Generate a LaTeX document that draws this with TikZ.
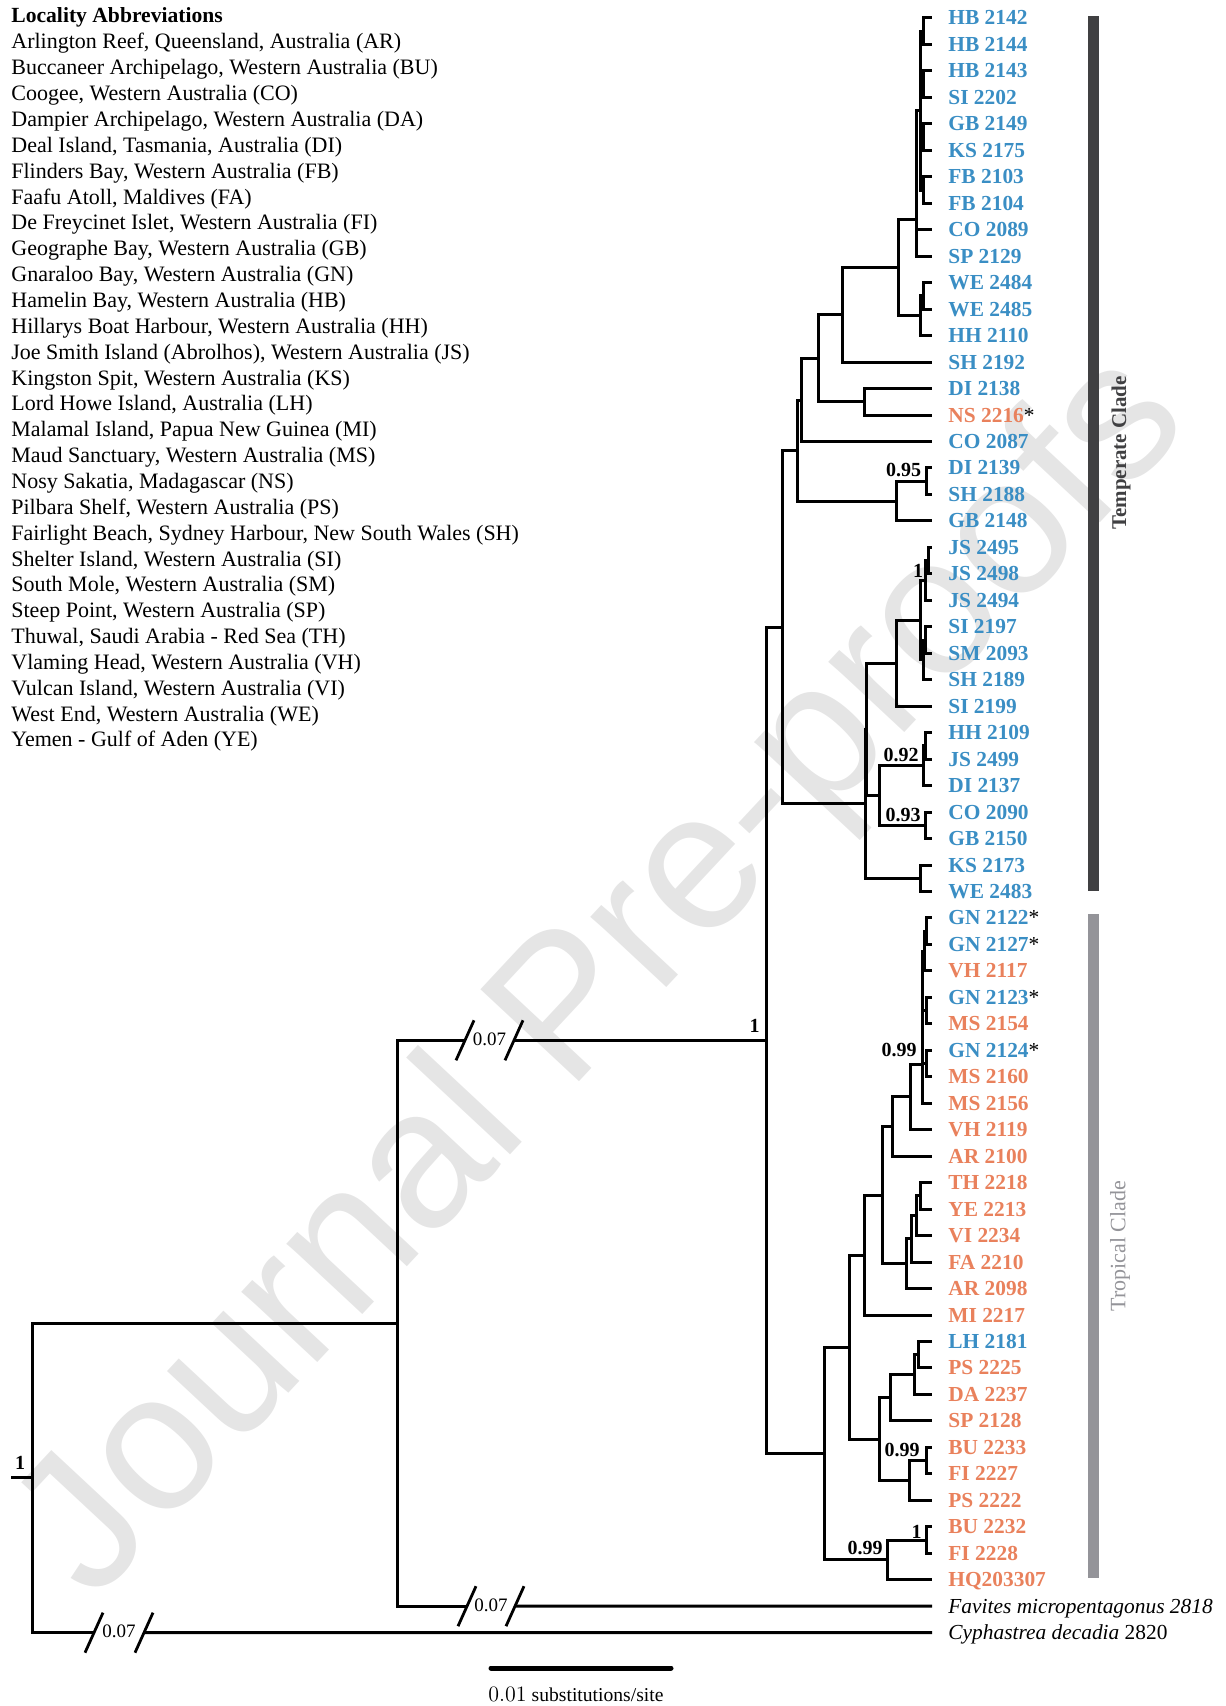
\documentclass[tikz,border=0pt]{standalone}
\usepackage{fontspec}
\setmainfont{Liberation Serif}
\newfontfamily\wmfont{Liberation Sans}
\usetikzlibrary{calc}
\definecolor{tblue}{RGB}{58,142,196}
\definecolor{torange}{RGB}{233,129,92}
\definecolor{tempbar}{RGB}{64,64,66}
\definecolor{tropbar}{RGB}{148,148,153}
\definecolor{wmgray}{RGB}{229,229,229}
\newcommand\astk{{\mdseries\color{black}*}}
\begin{document}
\begin{tikzpicture}[x=0.5pt,y=-0.5pt,
  br/.style={line width=1.5pt},
  sl/.style={line width=1.4pt},
  leaflab/.style={anchor=base west, inner sep=0pt, font=\fontsize{10.7}{12}\selectfont\bfseries},
  outlab/.style={anchor=base west, inner sep=0pt, font=\fontsize{10.7}{12}\selectfont},
  legend/.style={anchor=base west, inner sep=0pt, font=\fontsize{11}{12}\selectfont},
  supp/.style={anchor=east, inner sep=0pt, font=\fontsize{10}{12}\selectfont\bfseries},
  brk/.style={inner sep=0pt, font=\fontsize{9.5}{11}\selectfont}]
\useasboundingbox (0,0) rectangle (1225,1706);
% watermark
\node[rotate=47, text=wmgray, inner sep=0pt, font=\wmfont\fontsize{98}{98}\selectfont] (wmk) at (606,979) {Journal Pre-proofs};

% legend
\node[legend, font=\fontsize{10.8}{12}\selectfont\bfseries] (lgt) at (11,22.7) {Locality Abbreviations};
\foreach \i/\t in {
 0/{Arlington Reef, Queensland, Australia (AR)},
 1/{Buccaneer Archipelago, Western Australia (BU)},
 2/{Coogee, Western Australia (CO)},
 3/{Dampier Archipelago, Western Australia (DA)},
 4/{Deal Island, Tasmania, Australia (DI)},
 5/{Flinders Bay, Western Australia (FB)},
 6/{Faafu Atoll, Maldives (FA)},
 7/{De Freycinet Islet, Western Australia (FI)},
 8/{Geographe Bay, Western Australia (GB)},
 9/{Gnaraloo Bay, Western Australia (GN)},
 10/{Hamelin Bay, Western Australia (HB)},
 11/{Hillarys Boat Harbour, Western Australia (HH)},
 12/{Joe Smith Island (Abrolhos), Western Australia (JS)},
 13/{Kingston Spit, Western Australia (KS)},
 14/{Lord Howe Island, Australia (LH)},
 15/{Malamal Island, Papua New Guinea (MI)},
 16/{Maud Sanctuary, Western Australia (MS)},
 17/{Nosy Sakatia, Madagascar (NS)},
 18/{Pilbara Shelf, Western Australia (PS)},
 19/{Fairlight Beach, Sydney Harbour, New South Wales (SH)},
 20/{Shelter Island, Western Australia (SI)},
 21/{South Mole, Western Australia (SM)},
 22/{Steep Point, Western Australia (SP)},
 23/{Thuwal, Saudi Arabia - Red Sea (TH)},
 24/{Vlaming Head, Western Australia (VH)},
 25/{Vulcan Island, Western Australia (VI)},
 26/{West End, Western Australia (WE)},
 27/{Yemen - Gulf of Aden (YE)}}
 \node[legend] (lg\i) at (11,{49+25.85*\i}) {\t};

% leaf tips
\foreach \i in {0,...,61} \coordinate (L\i) at (932,{18+26.47*\i});

% leaf labels
\foreach \i/\c/\t in {
 0/tblue/HB 2142, 1/tblue/HB 2144, 2/tblue/HB 2143, 3/tblue/SI 2202,
 4/tblue/GB 2149, 5/tblue/KS 2175, 6/tblue/FB 2103, 7/tblue/FB 2104,
 8/tblue/CO 2089, 9/tblue/SP 2129, 10/tblue/WE 2484, 11/tblue/WE 2485,
 12/tblue/HH 2110, 13/tblue/SH 2192, 14/tblue/DI 2138, 15/torange/{NS 2216\astk},
 16/tblue/CO 2087, 17/tblue/DI 2139, 18/tblue/SH 2188, 19/tblue/GB 2148,
 20/tblue/JS 2495, 21/tblue/JS 2498, 22/tblue/JS 2494, 23/tblue/SI 2197,
 24/tblue/SM 2093, 25/tblue/SH 2189, 26/tblue/SI 2199, 27/tblue/HH 2109,
 28/tblue/JS 2499, 29/tblue/DI 2137, 30/tblue/CO 2090, 31/tblue/GB 2150,
 32/tblue/KS 2173, 33/tblue/WE 2483,
 34/tblue/{GN 2122\astk}, 35/tblue/{GN 2127\astk}, 36/torange/VH 2117,
 37/tblue/{GN 2123\astk}, 38/torange/MS 2154, 39/tblue/{GN 2124\astk},
 40/torange/MS 2160, 41/torange/MS 2156, 42/torange/VH 2119, 43/torange/AR 2100,
 44/torange/TH 2218, 45/torange/YE 2213, 46/torange/VI 2234, 47/torange/FA 2210,
 48/torange/AR 2098, 49/torange/MI 2217, 50/tblue/LH 2181, 51/torange/PS 2225,
 52/torange/DA 2237, 53/torange/SP 2128, 54/torange/BU 2233, 55/torange/FI 2227,
 56/torange/PS 2222, 57/torange/BU 2232, 58/torange/FI 2228, 59/torange/HQ203307}
 \node[leaflab, text=\c] (T\i) at (948,{25+26.47*\i}) {\t};
\node[outlab] (T60) at (948,{25+26.47*60}) {\itshape Favites micropentagonus 2818};
\node[outlab] (T61) at (948,{25+26.47*61}) {\itshape Cyphastrea decadia\upshape{} 2820};

% internal nodes
\coordinate (c01) at (923,31.24);
\coordinate (c23) at (923,84.18);
\coordinate (c45) at (923,137.12);
\coordinate (c67) at (923,190.06);
\coordinate (A1) at (920.5,110.65);
\coordinate (A2) at (916.7,220);
\coordinate (B1) at (923,295.9);
\coordinate (B) at (920,315.8);
\coordinate (C) at (898,267.9);
\coordinate (D) at (842,315);
\coordinate (E1) at (864,401.8);
\coordinate (E) at (818,358.4);
\coordinate (F1) at (801,400);
\coordinate (G1) at (926.7,481.2);
\coordinate (G) at (896,501.1);
\coordinate (F) at (797,450.5);
\coordinate (JS1) at (928,560.6);
\coordinate (JS) at (925.5,580.5);
\coordinate (M1) at (925,640);
\coordinate (M) at (923,659.9);
\coordinate (Lc) at (920,620.2);
\coordinate (J) at (896,663.2);
\coordinate (K11) at (925.5,745.9);
\coordinate (K1) at (923,765.8);
\coordinate (K2) at (925,825.3);
\coordinate (K) at (879.3,795.6);
\coordinate (I1) at (866.5,729.4);
\coordinate (KW) at (920.7,878.3);
\coordinate (I) at (865.5,803.9);
\coordinate (H) at (782.7,627.2);
\coordinate (N11) at (926.7,931.2);
\coordinate (N1) at (924,951);
\coordinate (N2) at (926.7,1010.6);
\coordinate (N3) at (926.7,1063.6);
\coordinate (N) at (922,1064);
\coordinate (O) at (910.7,1096.9);
\coordinate (P) at (892.7,1126.5);
\coordinate (R1) at (920,1195.9);
\coordinate (R2) at (916.7,1215.8);
\coordinate (R3) at (911.7,1238.9);
\coordinate (R) at (906.7,1263.7);
\coordinate (Q) at (882.7,1195.1);
\coordinate (S) at (864,1255.1);
\coordinate (V11) at (918.3,1354.7);
\coordinate (V1) at (914,1374.6);
\coordinate (V) at (890,1397.8);
\coordinate (W1) at (926.7,1460.6);
\coordinate (W) at (909,1480.5);
\coordinate (U) at (879.3,1439.1);
\coordinate (T) at (849.3,1347.1);
\coordinate (Y1) at (926.7,1540);
\coordinate (Y) at (887,1559.9);
\coordinate (X) at (824,1453.5);
\coordinate (Z) at (766,1040.3);
\coordinate (In) at (397,1323.2);
\coordinate (Rt) at (32.6,1477.9);
\coordinate (stub) at (11,1477.9);

\foreach \p/\c in {c01/L0,c01/L1,c23/L2,c23/L3,c45/L4,c45/L5,c67/L6,c67/L7,
 A1/c01,A1/c23,A1/c45,A1/c67,A2/A1,A2/L8,A2/L9,
 B1/L10,B1/L11,B/B1,B/L12,C/A2,C/B,D/C,D/L13,E1/L14,E1/L15,E/D,E/E1,
 F1/E,F1/L16,G1/L17,G1/L18,G/G1,G/L19,F/F1,F/G,
 JS1/L20,JS1/L21,JS/JS1,JS/L22,M1/L23,M1/L24,M/M1,M/L25,Lc/JS,Lc/M,J/Lc,J/L26,
 K11/L27,K11/L28,K1/K11,K1/L29,K2/L30,K2/L31,K/K1,K/K2,I1/J,I1/K,
 KW/L32,KW/L33,I/I1,I/KW,H/F,H/I,
 N11/L34,N11/L35,N1/N11,N1/L36,N2/L37,N2/L38,N3/L39,N3/L40,
 N/N1,N/N2,N/N3,N/L41,O/N,O/L42,P/O,P/L43,
 R1/L44,R1/L45,R2/R1,R2/L46,R3/R2,R3/L47,R/R3,R/L48,Q/P,Q/R,S/Q,S/L49,
 V11/L50,V11/L51,V1/V11,V1/L52,V/V1,V/L53,W1/L54,W1/L55,W/W1,W/L56,U/V,U/W,
 T/S,T/U,Y1/L57,Y1/L58,Y/Y1,Y/L59,X/T,X/Y,Z/H,Z/X}
 \draw[br] (\p) |- (\c);

% root and broken branches
\draw[br] (stub) -- (Rt);
\coordinate (bz1) at (465,1040.3); \coordinate (bz2) at (514,1040.3);
\coordinate (bf1) at (467,1606.2); \coordinate (bf2) at (515,1606.2);
\coordinate (bc1) at (94,1632.67); \coordinate (bc2) at (144,1632.67);
\draw[br] (Rt) |- (In);
\draw[br] (In) |- (bz1); \draw[br] (bz2) -- (Z);
\draw[br] (In) |- (bf1); \draw[br] (bf2) -- (L60);
\draw[br] (Rt) |- (bc1); \draw[br] (bc2) -- (L61);
\foreach \b in {bz1,bz2,bf1,bf2,bc1,bc2}
 \draw[sl] ($(\b)+(-9,20)$) -- ($(\b)+(9,-20)$);
\node[brk] (kz) at ($(bz1)!0.5!(bz2)+(0,-1)$) {0.07};
\node[brk] (kf) at ($(bf1)!0.5!(bf2)+(0,-1)$) {0.07};
\node[brk] (kc) at ($(bc1)!0.5!(bc2)+(0,-1)$) {0.07};

% support values
\node[supp] (s1) at (921.5,470) {0.95};
\node[supp] (s2) at (923.5,571) {1};
\node[supp] (s3) at (919,755) {0.92};
\node[supp] (s4) at (921,815) {0.93};
\node[supp] (s5) at (917,1050) {0.99};
\node[supp] (s6) at (920,1450) {0.99};
\node[supp] (s7) at (922,1532) {1};
\node[supp] (s8) at (883,1548) {0.99};
\node[supp] (s9) at (760,1026) {1};
\node[supp, anchor=center] (s10) at (20,1463) {1};

% clade bars
\fill[tempbar] (1088,16) rectangle (1099,891);
\fill[tropbar] (1088,914) rectangle (1099,1578);
\node[rotate=90, inner sep=0pt, text=tempbar, font=\fontsize{10.5}{12}\selectfont\bfseries] (tc) at (1121,453) {Temperate Clade};
\node[rotate=90, inner sep=0pt, text=tropbar, font=\fontsize{11}{12}\selectfont] (trc) at (1120,1246) {Tropical Clade};

% scale bar
\coordinate (sb1) at (491,1668); \coordinate (sb2) at (671,1668);
\draw[line width=2.5pt, line cap=round] (sb1) -- (sb2);
\node[anchor=base west, inner sep=0pt] (sbt) at (488,1701) {{\fontfamily{lmr}\fontsize{11}{12}\selectfont 0.01} {\fontsize{9.8}{12}\selectfont substitutions/site}};
\end{tikzpicture}
\end{document}
